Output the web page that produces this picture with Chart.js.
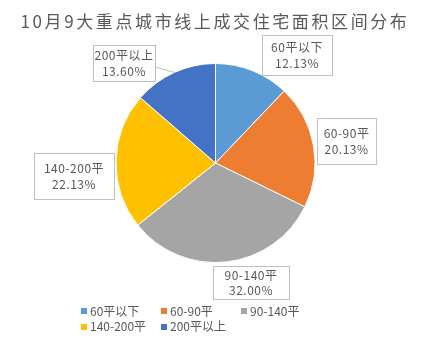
<!DOCTYPE html>
<html>
<head>
<meta charset="utf-8">
<script src="https://cdn.jsdelivr.net/npm/chart.js@4"></script>
<style>
  html, body { margin: 0; padding: 0; background: #fff; }
  #wrap { width: 427px; height: 353px; position: relative; }
</style>
</head>
<body>
<div id="wrap"><canvas id="myChart" width="427" height="353"></canvas></div>
<script>
const chartTitle = "10月9大重点城市线上成交住宅面积区间分布";
const categories = ["60平以下", "60-90平", "90-140平", "140-200平", "200平以上"];
const shares = [12.13, 20.13, 32.00, 22.13, 13.60];
const sliceColors = ["#5B9BD5", "#ED7D31", "#A5A5A5", "#FFC000", "#4472C4"];

// label box placement, relative to pie centre in units of radius: [dx, dy, w, h]
const labelBoxes = [
  [0.819, -1.085, 70, 40],
  [1.317, -0.221, 59, 46],
  [0.357, 1.201, 76, 33],
  [-1.422, 0.131, 80, 46],
  [-0.920, -1.005, 62, 36]
];

const FONT = '"Noto Sans CJK SC", "Noto Sans", sans-serif';
const textColor = '#595959';

const decorPlugin = {
  id: 'decor',
  afterDatasetsDraw(chart) {
    const ctx = chart.ctx;
    const arcs = chart.getDatasetMeta(0).data;
    ctx.save();
    ctx.font = '12px ' + FONT;
    ctx.textAlign = 'center';
    ctx.textBaseline = 'middle';
    arcs.forEach((arc, i) => {
      const r = arc.outerRadius;
      const [fx, fy, w, h] = labelBoxes[i];
      const cx = arc.x + fx * r;
      const cy = arc.y + fy * r;
      const left = Math.round(cx - w / 2) + 0.5;
      const top = Math.round(cy - h / 2) + 0.5;
      // leader line when box sits away from the slice
      const mid = (arc.startAngle + arc.endAngle) / 2;
      const px = arc.x + Math.cos(mid) * r;
      const py = arc.y + Math.sin(mid) * r;
      const nx = Math.max(left, Math.min(px, left + w));
      const ny = Math.max(top, Math.min(py, top + h));
      if (Math.hypot(px - nx, py - ny) > 10) {
        ctx.strokeStyle = '#BFBFBF';
        ctx.lineWidth = 1;
        ctx.beginPath();
        ctx.moveTo(left + w, top + h * 0.6);
        ctx.lineTo(px, py);
        ctx.stroke();
      }
      ctx.fillStyle = '#fff';
      ctx.fillRect(left, top, w, h);
      ctx.strokeStyle = '#BFBFBF';
      ctx.lineWidth = 1;
      ctx.strokeRect(left, top, w, h);
      ctx.fillStyle = textColor;
      ctx.letterSpacing = '0.5px';
      ctx.fillText(categories[i], cx, cy - 7.5);
      ctx.fillText(shares[i].toFixed(2) + '%', cx, cy + 8);
      ctx.letterSpacing = '0px';
    });

    // title
    ctx.font = '17px ' + FONT;
    ctx.letterSpacing = '2.6px';
    ctx.fillStyle = textColor;
    ctx.fillText(chartTitle, chart.width / 2 + 1.5, 22);
    ctx.letterSpacing = '0px';

    // legend: 3 columns, 2 rows
    ctx.font = '12px ' + FONT;
    ctx.textAlign = 'left';
    const cols = 3;
    const colX = [81];
    for (let c = 0; c < cols - 1; c++) {
      let maxW = 0;
      for (let i = c; i < categories.length; i += cols) {
        maxW = Math.max(maxW, 9 + ctx.measureText(categories[i]).width);
      }
      colX.push(colX[c] + maxW + 15);
    }
    categories.forEach((name, i) => {
      const x = Math.round(colX[i % cols]);
      const y = 311 + Math.floor(i / cols) * 15.5;
      ctx.fillStyle = sliceColors[i];
      ctx.fillRect(x, Math.round(y - 3), 6, 6);
      ctx.fillStyle = textColor;
      ctx.fillText(name, x + 9, y);
    });
    ctx.restore();
  }
};

new Chart("myChart", {
  type: "pie",
  data: {
    labels: categories,
    datasets: [{
      data: shares,
      backgroundColor: sliceColors,
      borderColor: "#fff",
      borderWidth: 1
    }]
  },
  options: {
    responsive: false,
    animation: false,
    layout: { padding: { top: 63, bottom: 90, left: 40, right: 36 } },
    plugins: {
      legend: { display: false },
      title: { display: false },
      tooltip: { enabled: false }
    }
  },
  plugins: [decorPlugin]
});
</script>
</body>
</html>
